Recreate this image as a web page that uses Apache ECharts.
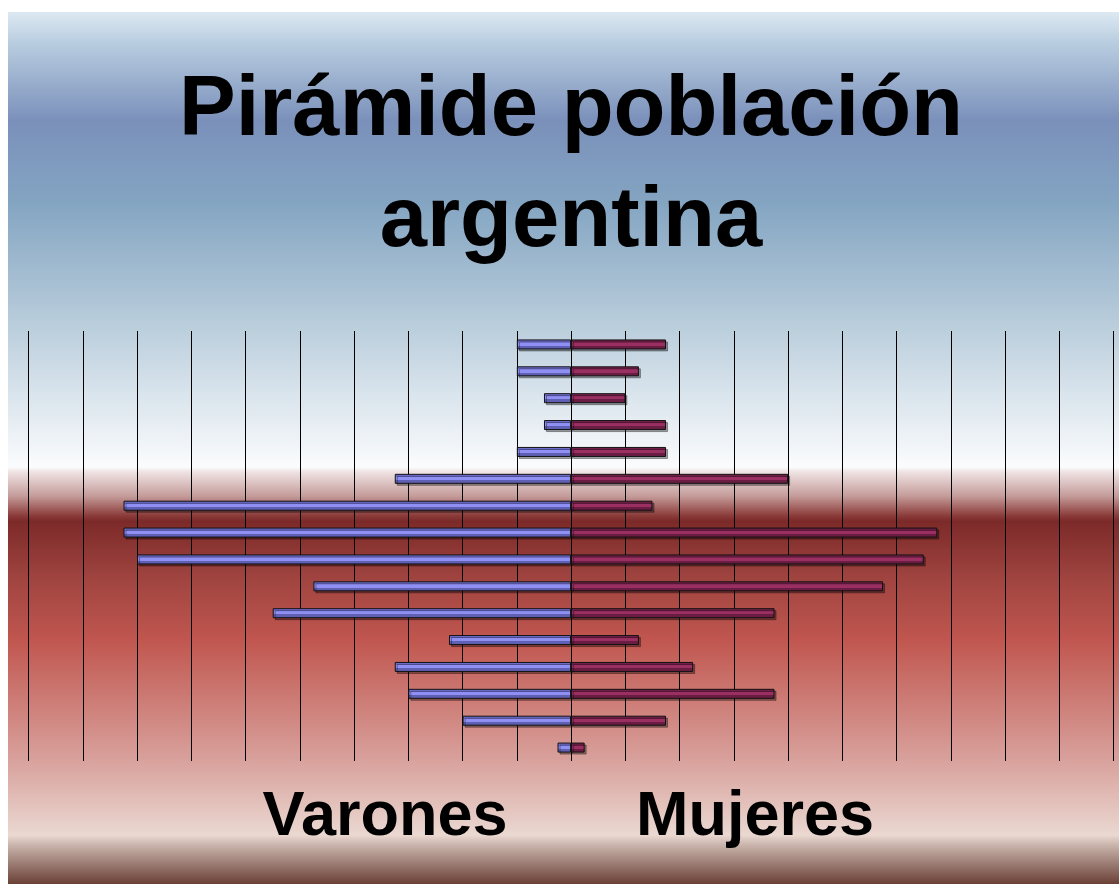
<!DOCTYPE html>
<html>
<head>
<meta charset="utf-8">
<title>Pirámide población argentina</title>
<script src="https://cdn.jsdelivr.net/npm/echarts@6/dist/echarts.min.js"></script>
<style>
  html, body { margin: 0; padding: 0; background: #fff; }
  #main { width: 1119px; height: 884px; }
</style>
</head>
<body>
<div id="main"></div>
<script>
// age groups, bottom to top
var edades = ['0-4','5-9','10-14','15-19','20-24','25-29','30-34','35-39',
              '40-44','45-49','50-54','55-59','60-64','65-69','70-74','75+'];
// share of population (grid step = 1)
var varones = [0.25, 2, 3, 3.25, 2.25, 5.5, 4.75, 8, 8.25, 8.25, 3.25, 1, 0.5, 0.5, 1, 1];
var mujeres = [0.25, 1.75, 3.75, 2.25, 1.25, 3.75, 5.75, 6.5, 6.75, 1.5, 4, 1.75, 1.75, 1, 1.25, 1.75];

var chart = echarts.init(document.getElementById('main'), null, { renderer: 'canvas' });

function barGrad(c1, c2, c3) {
  return new echarts.graphic.LinearGradient(0, 0, 0, 1, [
    { offset: 0, color: c1 },
    { offset: 0.3, color: c1 },
    { offset: 0.31, color: c2 },
    { offset: 0.62, color: c2 },
    { offset: 0.63, color: c3 },
    { offset: 1, color: c3 }
  ]);
}

var bg = new echarts.graphic.LinearGradient(0, 0, 0, 1, [
  { offset: 0, color: '#dde9f2' },
  { offset: 0.035, color: '#b9cde0' },
  { offset: 0.125, color: '#7a90ba' },
  { offset: 0.22, color: '#84a5c2' },
  { offset: 0.365, color: '#bccfdd' },
  { offset: 0.49, color: '#eef3f7' },
  { offset: 0.522, color: '#fbfcfd' },
  { offset: 0.527, color: '#f0e4e4' },
  { offset: 0.555, color: '#c49c9a' },
  { offset: 0.578, color: '#8a3a38' },
  { offset: 0.584, color: '#7c2a29' },
  { offset: 0.65, color: '#a04440' },
  { offset: 0.72, color: '#c0564f' },
  { offset: 0.79, color: '#cd7c76' },
  { offset: 0.86, color: '#d9a29d' },
  { offset: 0.944, color: '#ead8d1' },
  { offset: 0.956, color: '#c8b2aa' },
  { offset: 1, color: '#6a4036' }
]);

var font = '"Liberation Sans", Arial, sans-serif';

var option = {
  animation: false,
  backgroundColor: '#ffffff',
  graphic: [
    { type: 'rect', z: -10, silent: true,
      shape: { x: 8, y: 12, width: 1111, height: 872 },
      style: { fill: bg } },
    { type: 'text', z: 10, x: 571, y: 112,
      style: { text: 'Pirámide población', font: 'bold 85px ' + font,
               fill: '#000', align: 'center', verticalAlign: 'middle' } },
    { type: 'text', z: 10, x: 571, y: 223,
      style: { text: 'argentina', font: 'bold 85px ' + font,
               fill: '#000', align: 'center', verticalAlign: 'middle' } },
    { type: 'text', z: 10, x: 385, y: 818,
      style: { text: 'Varones', font: 'bold 63px ' + font,
               fill: '#000', align: 'center', verticalAlign: 'middle' } },
    { type: 'text', z: 10, x: 755, y: 818,
      style: { text: 'Mujeres', font: 'bold 63px ' + font,
               fill: '#000', align: 'center', verticalAlign: 'middle' } }
  ],
  grid: { left: 28.6, right: 5.4, top: 331, bottom: 123, containLabel: false },
  xAxis: {
    type: 'value', min: -10, max: 10, interval: 1,
    axisLine: { show: false }, axisTick: { show: false }, axisLabel: { show: false },
    splitLine: { show: true, lineStyle: { color: '#000', width: 1 } }
  },
  yAxis: {
    type: 'category', data: edades,
    axisLine: { show: false }, axisTick: { show: false }, axisLabel: { show: false },
    splitLine: { show: false }
  },
  series: [
    {
      name: 'Varones', type: 'bar', barWidth: 10, barGap: '-100%',
      data: varones.map(function (v) { return -v; }),
      itemStyle: {
        color: barGrad('#6f6fd0', '#9090f4', '#5f5fb4'),
        borderColor: '#111', borderWidth: 1,
        shadowColor: 'rgba(0,0,0,0.35)', shadowOffsetX: 2, shadowOffsetY: 2
      }
    },
    {
      name: 'Mujeres', type: 'bar', barWidth: 10, barGap: '-100%',
      data: mujeres,
      itemStyle: {
        color: barGrad('#76204a', '#9a2f62', '#6a1c42'),
        borderColor: '#111', borderWidth: 1,
        shadowColor: 'rgba(0,0,0,0.35)', shadowOffsetX: 2, shadowOffsetY: 2
      }
    }
  ]
};

chart.setOption(option);
</script>
</body>
</html>
